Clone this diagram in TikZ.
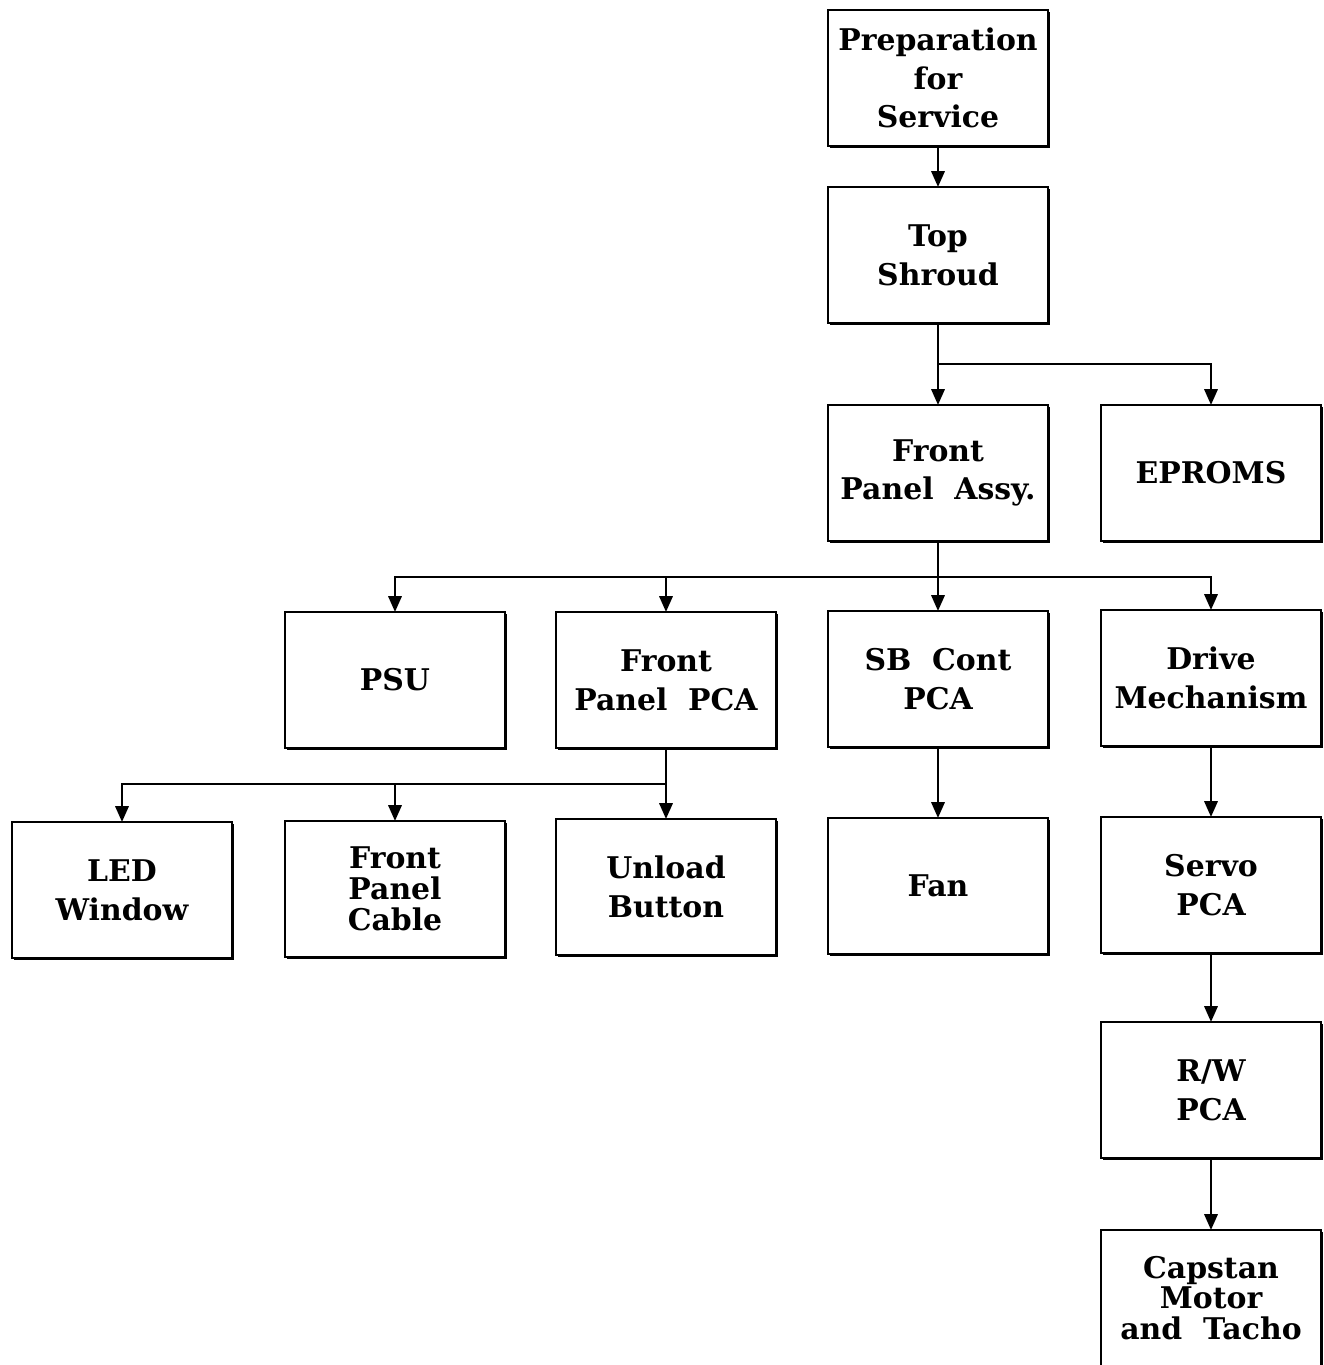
\documentclass[tikz,border=0pt]{standalone}
\usepackage{fontspec}
\setmainfont{DejaVu Serif}
\usepackage{tikz}
\usetikzlibrary{arrows.meta,shadows}

\tikzset{
  part/.style={draw,line width=1.5pt,fill=white,align=center,
    minimum width=44mm,minimum height=27.2mm,inner sep=1pt,outer sep=0pt,
    font=\fontsize{17}{22}\selectfont\bfseries,
    drop shadow={shadow xshift=1pt,shadow yshift=-1pt,fill=black,opacity=1}},
  tight/.style={font=\fontsize{17}{17.5}\selectfont\bfseries},
  link/.style={line width=1.5pt},
}

\begin{document}
\begin{tikzpicture}[x=2mm,y=-2mm,>={Triangle[length=9pt,width=7.5pt]}]
  \useasboundingbox (0,0) rectangle (132.4,136.5);
  % main column
  \node[part] (prep)    at (93.8,7.8)   {Preparation\\for\\Service};
  \node[part] (shroud)  at (93.8,25.5)  {Top\\Shroud};
  \node[part] (fpassy)  at (93.8,47.3)  {Front\\Panel\ \ Assy.};
  \node[part] (eproms)  at (121.1,47.3) {EPROMS};
  % second level
  \node[part] (psu)     at (39.5,68.0)  {PSU};
  \node[part] (fppca)   at (66.6,68.0)  {Front\\Panel\ \ PCA};
  \node[part] (sbcont)  at (93.8,67.9)  {SB\ \ Cont\\PCA};
  \node[part] (drive)   at (121.1,67.8) {Drive\\Mechanism};
  % third level
  \node[part] (led)     at (12.2,89.0)  {LED\\Window};
  \node[part,tight] (fpcable) at (39.5,88.9) {Front\\Panel\\Cable};
  \node[part] (unload)  at (66.6,88.7)  {Unload\\Button};
  \node[part] (fan)     at (93.8,88.6)  {Fan};
  \node[part] (servo)   at (121.1,88.5) {Servo\\PCA};
  \node[part] (rw)      at (121.1,109.0) {R/W\\PCA};
  \node[part,tight] (capstan) at (121.1,129.8) {Capstan\\Motor\\and\ \ Tacho};

  \draw[link,->] (prep) -- (shroud);
  \draw[link] (shroud.south) -- ++(0,4.1) coordinate (busa);
  \draw[link,->] (busa) -- (fpassy);
  \draw[link,->] (busa) -| (eproms);

  \draw[link] (fpassy.south) -- ++(0,3.6) coordinate (busb);
  \draw[link,->] (busb) -| (psu);
  \draw[link,->] (busb) -| (fppca);
  \draw[link,->] (busb) -- (sbcont);
  \draw[link,->] (busb) -| (drive);

  \draw[link] (fppca.south) -- ++(0,3.6) coordinate (busc);
  \draw[link,->] (busc) -| (led);
  \draw[link,->] (busc) -| (fpcable);
  \draw[link,->] (busc) -- (unload);

  \draw[link,->] (sbcont) -- (fan);
  \draw[link,->] (drive) -- (servo);
  \draw[link,->] (servo) -- (rw);
  \draw[link,->] (rw) -- (capstan);
\end{tikzpicture}
\end{document}
